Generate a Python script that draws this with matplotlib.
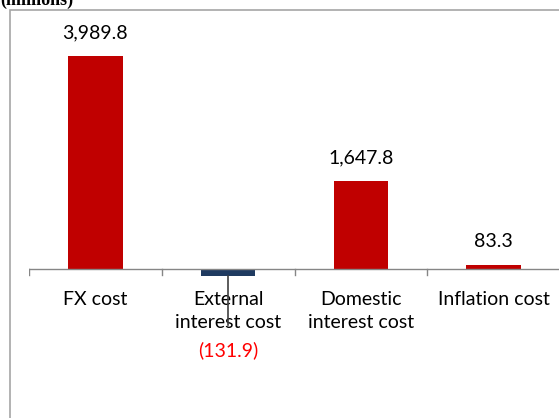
import matplotlib
matplotlib.use("Agg")
import matplotlib.pyplot as plt
from matplotlib.patches import Rectangle

categories = ["FX cost", "External\ninterest cost", "Domestic\ninterest cost", "Inflation cost"]
values = [3989.8, -131.9, 1647.8, 83.3]
labels = ["3,989.8", "(131.9)", "1,647.8", "83.3"]
bar_colors = ["#C00000", "#1F3A60", "#C00000", "#C00000"]

W, H = 559, 418
plt.rcParams["font.family"] = ["Lato", "DejaVu Sans"]

fig = plt.figure(figsize=(W / 100, H / 100), dpi=100)

# outer chart frame (clipped at right and bottom)
fig.patches.append(Rectangle((10 / W, -0.1), 1.2, (H - 10) / H + 0.1,
                             transform=fig.transFigure, fill=False,
                             edgecolor="#A6A6A6", linewidth=1.2))
fig.text(0.0, 1 - 5 / H, "(millions)", family="Liberation Serif", weight="bold",
         fontsize=13, va="baseline", ha="left")

# plot area: x from 29px to 560px, y from 10px to bottom
ax = fig.add_axes([29 / W, 0, (560 - 29) / W, (H - 10) / H])
scale = 213 / 3989.8  # px per unit
ax.set_xlim(-0.5, 3.5)
ax.set_ylim(-(H - 269) / scale, (269 - 10) / scale)
ax.axis("off")

x = range(len(values))
ax.bar(x, values, width=0.41, color=bar_colors, zorder=2)
ax.axhline(0, color="#868686", linewidth=1.0, zorder=3)
for b in [-0.5, 0.5, 1.5, 2.5, 3.5]:
    ax.plot([b, b], [0, -6 / scale], color="#868686", linewidth=1.0, zorder=3)

# leader line under the negative bar
ax.plot([1, 1], [values[1], -(325 - 269) / scale], color="#404040", linewidth=1.2, zorder=5)

for i, (v, lab) in enumerate(zip(values, labels)):
    if v >= 0:
        ax.text(i, v + 23 / scale, lab, ha="center", va="center", fontsize=14, color="#000000")
    else:
        ax.text(i, -(350 - 269) / scale, lab, ha="center", va="center", fontsize=14, color="#FF0000")

for i, cat in enumerate(categories):
    ax.text(i, -(291 - 269) / scale, cat, ha="center", va="top", fontsize=14,
            linespacing=1.45, color="#000000", zorder=4)

fig.savefig("out.png", dpi=100)
